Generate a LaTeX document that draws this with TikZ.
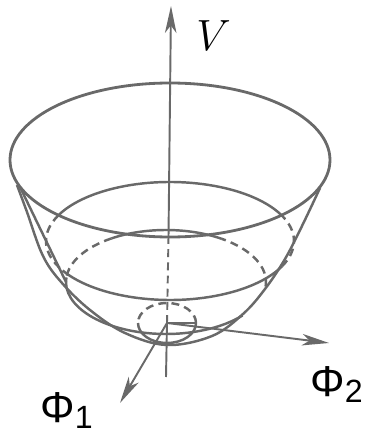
\documentclass[tikz,border=0pt]{standalone}
\usepackage{fontspec}
\newfontfamily\labelfont{Liberation Sans}
\usepackage{tikz}
\usetikzlibrary{arrows.meta}
\definecolor{linegray}{RGB}{105,105,105}
\newcommand{\philabel}[1]{{\labelfont\fontsize{24.6}{26}\selectfont Φ\raisebox{-3.4pt}{\fontsize{18.3}{20}\selectfont #1}}}

\begin{document}
\begin{tikzpicture}[x=0.02cm, y=0.02cm,
    curve/.style={linegray, line width=1.4pt},
    hidden/.style={curve, dash pattern=on 4.5pt off 3pt},
    axis/.style={linegray, line width=1.1pt},
    hiddenaxis/.style={axis, dash pattern=on 4.5pt off 3pt},
    axisarrow/.style={axis, -{Stealth[length=5.4mm, width=2.3mm, inset=1.5mm]}}]
    \useasboundingbox (0,0) rectangle (370,434);

    % Centres of the level curves
    \coordinate (rim) at (170,274);
    \coordinate (mid) at (170,193);
    \coordinate (low) at (166,152);
    \coordinate (O) at (167,111);

    % Rim of the bowl
    \draw[curve, line width=1.6pt] (rim) ellipse[x radius=160, y radius=77];

    % Outline of the bowl
    \draw[curve] plot[smooth, tension=0.6] coordinates {(17,249) (27,222) (43,178) (62,151) (90,124) (125,101) (167,89) (212,98) (243,120) (265,145) (285,175) (302,208) (320,246)};
    \draw[curve] (20,247) -- (66,152);

    % Middle level
    \draw[curve] (mid) ++(27:124 and 59) arc[start angle=27, end angle=154, x radius=124, y radius=59];
    \draw[hidden] (mid) ++(154:124 and 59) arc[start angle=154, end angle=210, x radius=124, y radius=59];
    \draw[curve] (mid) ++(210:124 and 59) arc[start angle=210, end angle=334.5, x radius=124, y radius=59];
    \draw[hidden] (mid) ++(-25.5:124 and 59) arc[start angle=-25.5, end angle=27, x radius=124, y radius=59];

    % Lower level
    \draw[curve] (low) ++(56:100 and 52) arc[start angle=56, end angle=123, x radius=100, y radius=52];
    \draw[hidden] (low) ++(123:100 and 52) arc[start angle=123, end angle=175, x radius=100, y radius=52];
    \draw[curve] (low) ++(175:100 and 52) arc[start angle=175, end angle=320, x radius=100, y radius=52];
    \draw[hidden] (low) ++(-5:100 and 52) arc[start angle=-5, end angle=56, x radius=100, y radius=52];

    % Small level near the minimum
    \draw[hidden] (O) ++(0:29 and 20) arc[start angle=0, end angle=180, x radius=29, y radius=20];
    \draw[curve] (O) ++(180:29 and 20) arc[start angle=180, end angle=360, x radius=29, y radius=20];
    \draw[curve] (O) -- ++(29,0);

    % Axes
    \coordinate (Vbot) at (166,57);
    \coordinate (Vrim) at (168.5,197);
    \coordinate (Vtop) at (171,428);
    \coordinate (phione) at (120,31);
    \coordinate (phitwo) at (329,91);
    \draw[axis] (Vbot) -- (O);
    \draw[hiddenaxis] (O) -- (Vrim);
    \draw[axisarrow] (Vrim) -- (Vtop);
    \draw[axisarrow] (O) -- (phione);
    \draw[axisarrow] (O) -- (phitwo);

    % Labels
    \node[anchor=base west, inner sep=0pt] (labV) at (196,384) {\fontsize{28}{30}\selectfont $V$};
    \node[anchor=base west, inner sep=0pt] (labone) at (40,11) {\philabel{1}};
    \node[anchor=base west, inner sep=0pt] (labtwo) at (310,37) {\philabel{2}};
\end{tikzpicture}
\end{document}
